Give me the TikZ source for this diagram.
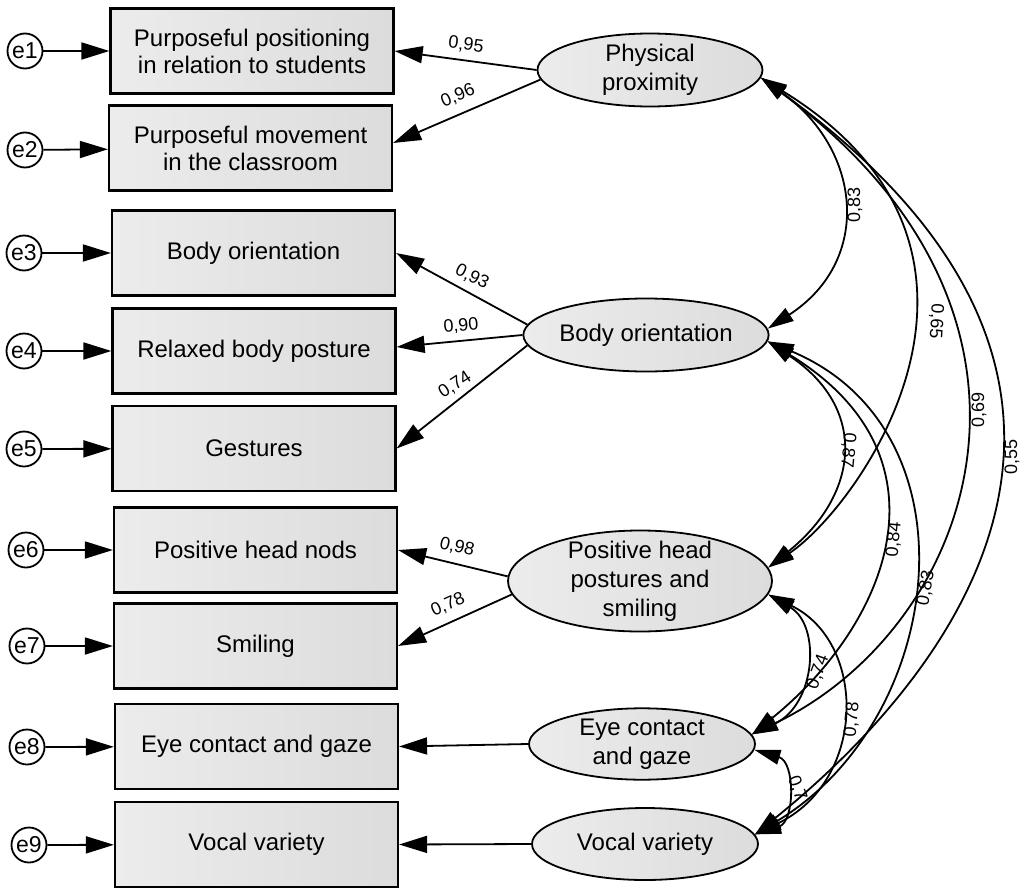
\documentclass[tikz,border=0pt]{standalone}
\usepackage{fontspec}
\setmainfont{Liberation Sans}
\usetikzlibrary{arrows.meta,shapes.geometric}
\definecolor{boxL}{RGB}{236,236,236}
\definecolor{boxR}{RGB}{220,220,220}
\begin{document}
\begin{tikzpicture}[x=1pt,y=-1pt,
  obs/.style={draw,line width=2.2pt,minimum width=283pt,minimum height=85pt,inner sep=0pt,align=center,font=\fontsize{24}{27}\selectfont,left color=boxL,right color=boxR},
  lat/.style={ellipse,draw,line width=1.8pt,inner sep=0pt,align=center,font=\fontsize{24}{29}\selectfont,left color=boxL,right color=boxR},
  lattext/.style={inner sep=0pt,align=center,font=\fontsize{24}{29}\selectfont},
  err/.style={circle,draw,line width=1.8pt,fill=white,minimum size=35pt,inner sep=0pt,font=\fontsize{23}{23}\selectfont},
  load/.style={line width=1.8pt,-{Triangle[length=28pt,width=17pt]}},
  cov/.style={line width=1.8pt,{Triangle[length=26pt,width=15pt]}-{Triangle[length=26pt,width=15pt]}},
  lab/.style={font=\fontsize{18}{18}\selectfont,inner sep=0pt}
]
\path[use as bounding box,fill=white] (0,0) rectangle (1023,889);

% observed variables
\node[obs] (b1) at (252,51) {Purposeful positioning\\in relation to students};
\node[obs] (b2) at (250.5,148) {Purposeful movement\\in the classroom};
\node[obs] (b3) at (253.5,253) {Body orientation};
\node[obs] (b4) at (254,351) {Relaxed body posture};
\node[obs] (b5) at (254,448.5) {Gestures};
\node[obs] (b6) at (255.5,550) {Positive head nods};
\node[obs] (b7) at (255.5,646) {Smiling};
\node[obs] (b8) at (256.5,746.5) {Eye contact and gaze};
\node[obs] (b9) at (256.5,844.5) {Vocal variety};

% error terms
\node[err] (e1) at (25,51) {e1};
\node[err] (e2) at (25,150) {e2};
\node[err] (e3) at (24,253) {e3};
\node[err] (e4) at (24,351) {e4};
\node[err] (e5) at (24,449) {e5};
\node[err] (e6) at (26,550) {e6};
\node[err] (e7) at (27,646) {e7};
\node[err] (e8) at (27,747) {e8};
\node[err] (e9) at (29,845) {e9};
\foreach \i in {1,...,9} {\draw[load] (e\i) -- (b\i);}

% latent variables
\node[lat,minimum width=225pt,minimum height=73pt] (pp) at (650,70) {Physical\\proximity};
\node[lat,minimum width=225pt,minimum height=73pt] (bo) at (646,335) {Body orientation};
\node[lat,minimum width=264pt,minimum height=101pt] (ph) at (640,581) {};
\node[lattext] (pht) at (ph.center) {Positive head\\postures and\\smiling};
\node[lat,minimum width=226pt,minimum height=71pt] (ec) at (642,744) {Eye contact\\and gaze};
\node[lat,minimum width=226pt,minimum height=72pt] (vv) at (645,844) {Vocal variety};

% loadings
\draw[load] (pp.west) -- (b1.east);
\draw[load] (pp.185) -- ([yshift=5pt]b2.east);
\draw[load] (bo.175) -- (b3.east);
\draw[load] (bo.west) -- ([yshift=4pt]b4.east);
\draw[load] (bo.185) -- (b5.east);
\draw[load] (ph.178) -- (b6.east);
\draw[load] (ph.186) -- (b7.east);
\draw[load] (ec.west) -- (b8.east);
\draw[load] (vv.west) -- (b9.east);

\node[lab,rotate=-7] (l1) at (466,45) {0,95};
\node[lab,rotate=23] (l2) at (458,96) {0,96};
\node[lab,rotate=-27] (l3) at (472,277) {0,93};
\node[lab,rotate=5] (l4) at (461,326) {0,90};
\node[lab,rotate=33] (l5) at (455,385) {0,74};
\node[lab,rotate=-13] (l6) at (457,547) {0,98};
\node[lab,rotate=24] (l7) at (448,605) {0,78};

% covariances
\draw[cov] (pp.-4) .. controls +(101,72) and +(105,-68) .. (bo.3);
\draw[cov] (pp.-4) .. controls +(280,172) and +(93,-63) .. (ph.6);
\draw[cov] (pp.-4) .. controls +(325,239) and +(223,-107) .. (ec.5);
\draw[cov] (pp.-4) .. controls +(419,303) and +(203,-164) .. (vv.5);
\draw[cov] (bo.-3) .. controls +(101,67) and +(91,-73) .. (ph.6);
\draw[cov] (bo.-3) .. controls +(190,116) and +(135,-109) .. (ec.5);
\draw[cov] (bo.-3) .. controls +(213,89) and +(191,-115) .. (vv.5);
\draw[cov] (ph.-6) .. controls +(53,31) and +(64,-30) .. (ec.5);
\draw[cov] (ph.-6) .. controls +(99,48) and +(112,-54) .. (vv.5);
\draw[cov] (ec.-3) .. controls +(41,12) and +(40,-13) .. (vv.5);

\node[lab,rotate=90] (c1) at (855,205) {0,83};
\node[lab,rotate=-93] (c2) at (936,321) {0,65};
\node[lab,rotate=90] (c3) at (979,410) {0,69};
\node[lab,rotate=90] (c4) at (1012,457) {0,55};
\node[lab,rotate=-95] (c5) at (848,450) {0,87};
\node[lab,rotate=85] (c6) at (894,540) {0,84};
\node[lab,rotate=80] (c7) at (926,588) {0,83};
\node[lab,rotate=70] (c8) at (818,672) {0,74};
\node[lab,rotate=85] (c9) at (852,720) {0,78};
\node[lab,rotate=-70] (c10) at (797,788) {0,7};
\end{tikzpicture}
\end{document}
